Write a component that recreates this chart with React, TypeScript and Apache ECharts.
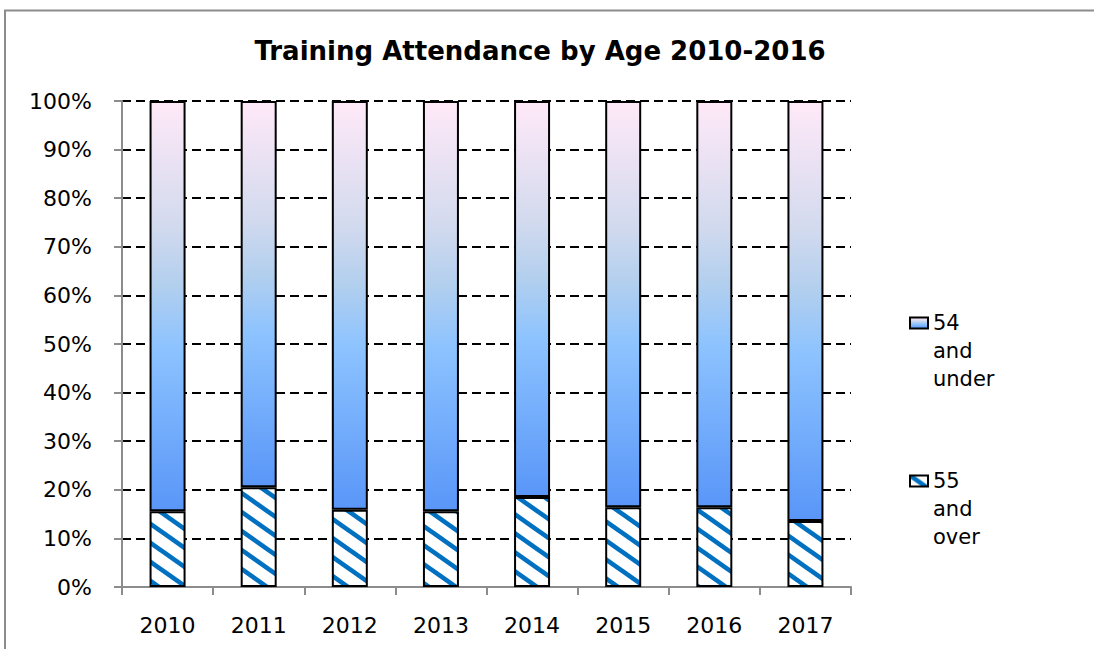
import React, { useEffect, useRef } from "react";
import * as echarts from "echarts";

const categories = ["2010", "2011", "2012", "2013", "2014", "2015", "2016", "2017"];
const over55 = [15.6, 20.5, 15.9, 15.6, 18.5, 16.4, 16.4, 13.6];
const under54 = [84.4, 79.5, 84.1, 84.4, 81.5, 83.6, 83.6, 86.4];
const seriesNames = ["54 and under", "55 and over"];
const titleText = "Training Attendance by Age 2010-2016";

const FONT = "DejaVu Sans";

function stripePattern() {
  const W = 27;
  const H = 19;
  const sw = 4.6;
  const svg =
    `<svg xmlns="http://www.w3.org/2000/svg" width="${W}" height="${H}">` +
    `<rect width="${W}" height="${H}" fill="#ffffff"/>` +
    `<g stroke="#0070C0" stroke-width="${sw}">` +
    `<line x1="${-W}" y1="${-H}" x2="${2 * W}" y2="${2 * H}"/>` +
    `<line x1="0" y1="${-H}" x2="${2 * W}" y2="${H}"/>` +
    `<line x1="${-W}" y1="0" x2="${W}" y2="${2 * H}"/>` +
    `</g></svg>`;
  return {
    image: "data:image/svg+xml;charset=utf-8," + encodeURIComponent(svg),
    repeat: "repeat",
    imageWidth: W,
    imageHeight: H,
  };
}

export default function App() {
  const ref = useRef<HTMLDivElement>(null);
  useEffect(() => {
    document.body.style.margin = "0";
    const chart = echarts.init(ref.current!, null, { renderer: "svg" });
    const gradient = new echarts.graphic.LinearGradient(0, 0, 0, 1, [
      { offset: 0, color: "#FFE9F8" },
      { offset: 0.3, color: "#D3DAEE" },
      { offset: 0.45, color: "#B2CFEE" },
      { offset: 0.6, color: "#8DC3FF" },
      { offset: 1, color: "#5996F8" },
    ]);
    chart.setOption({
      animation: false,
      backgroundColor: "#ffffff",
      textStyle: { fontFamily: FONT },
      graphic: [
        {
          type: "rect",
          z: -10,
          shape: { x: 5, y: 10.5, width: 1300, height: 1000 },
          style: { fill: "none", stroke: "#8c8c8c", lineWidth: 2 },
        },
      ],
      title: {
        text: titleText,
        left: 535,
        top: 33,
        textAlign: "center",
        textStyle: { fontFamily: FONT, fontSize: 26, fontWeight: "bold", color: "#000" },
      },
      legend: {
        orient: "vertical",
        left: 909,
        top: 253,
        padding: 0,
        icon: "rect",
        itemWidth: 18,
        itemHeight: 11,
        itemGap: 18,
        data: seriesNames,
        formatter: (name: string) => "\n\n" + name.split(" ").join("\n"),
        textStyle: {
          fontFamily: FONT,
          fontSize: 21,
          lineHeight: 28,
          color: "#000",
        },
      },
      grid: { left: 122, right: 243, top: 101, bottom: 62 },
      xAxis: {
        type: "category",
        data: categories,
        axisLine: { lineStyle: { color: "#8c8c8c", width: 2 } },
        axisTick: { show: true, length: 8, lineStyle: { color: "#8c8c8c", width: 2 } },
        axisLabel: { fontFamily: FONT, fontSize: 22, color: "#000", margin: 27 },
      },
      yAxis: {
        type: "value",
        min: 0,
        max: 100,
        interval: 10,
        axisLine: { show: true, lineStyle: { color: "#8c8c8c", width: 2 } },
        axisTick: { show: true, length: 8, lineStyle: { color: "#8c8c8c", width: 2 } },
        axisLabel: { fontFamily: FONT, fontSize: 22, color: "#000", margin: 30, formatter: "{value}%" },
        splitLine: { show: true, lineStyle: { color: "#000", width: 2, type: [9, 5] } },
      },
      series: [
        {
          name: seriesNames[1],
          type: "bar",
          stack: "total",
          barWidth: 36,
          data: over55,
          itemStyle: { color: stripePattern(), borderColor: "#000", borderWidth: 2 },
        },
        {
          name: seriesNames[0],
          type: "bar",
          stack: "total",
          barWidth: 36,
          data: under54,
          itemStyle: { color: gradient, borderColor: "#000", borderWidth: 2 },
        },
      ],
    });
    return () => chart.dispose();
  }, []);
  return <div ref={ref} style={{ width: 1094, height: 649 }} />;
}
